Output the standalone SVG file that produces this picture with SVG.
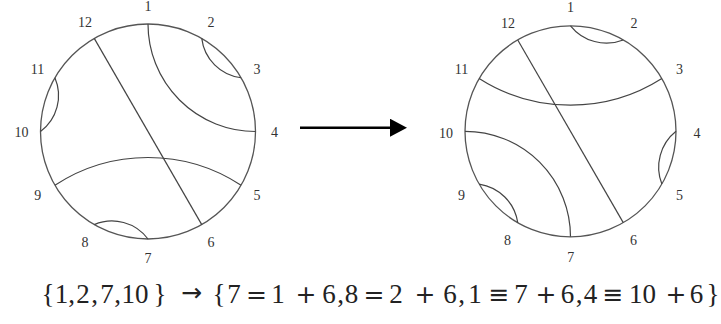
<svg xmlns="http://www.w3.org/2000/svg" width="721" height="324" viewBox="0 0 721 324">
  <style>
    .disk { fill: none; stroke: #555; stroke-width: 1.3; }
    .chord { fill: none; stroke: #444; stroke-width: 1.2; }
    .lbl { font-family: "Liberation Serif", "DejaVu Serif", serif; font-size: 14px; fill: #333; text-anchor: middle; }
    .formula { font-family: "Liberation Serif", "DejaVu Serif", serif; font-size: 27px; fill: #222; }
    .formula tspan { text-anchor: middle; }
    .formula .op { font-family: "DejaVu Sans", sans-serif; font-size: 25px; }
    .arrow { stroke: #000; stroke-width: 2.5; fill: none; }
  </style>
  <defs>
    <marker id="head" markerUnits="userSpaceOnUse" markerWidth="18" markerHeight="20" refX="0" refY="9" orient="auto">
      <polygon points="0,0 17,9 0,18" fill="#000"/>
    </marker>
  </defs>
  <rect width="721" height="324" fill="#fff"/>

  <g id="left-diagram">
    <circle class="disk" cx="148" cy="131.5" r="107.5"/>
    <path class="chord" d="M94.25,38.4 L201.75,224.6"/>
    <path class="chord" d="M148,24 A107.5,107.5 0 0 0 255.5,131.5"/>
    <path class="chord" d="M201.75,38.4 A45,45 0 0 0 241.1,77.75"/>
    <path class="chord" d="M40.5,131.5 A45,45 0 0 0 54.9,77.75"/>
    <path class="chord" d="M148,239 A45,45 0 0 0 94.25,224.6"/>
    <path class="chord" d="M241.1,185.25 A170,170 0 0 0 54.9,185.25"/>
    <g>
      <text class="lbl" x="148" y="10.5">1</text>
      <text class="lbl" x="211" y="27.4">2</text>
      <text class="lbl" x="257.1" y="73.8">3</text>
      <text class="lbl" x="274.5" y="137">4</text>
      <text class="lbl" x="257.1" y="200">5</text>
      <text class="lbl" x="211" y="246.6">6</text>
      <text class="lbl" x="148" y="263">7</text>
      <text class="lbl" x="85" y="246.6">8</text>
      <text class="lbl" x="37.8" y="200">9</text>
      <text class="lbl" x="21.5" y="137">10</text>
      <text class="lbl" x="37.5" y="73.8">11</text>
      <text class="lbl" x="85" y="27.4">12</text>
    </g>
  </g>

  <g id="right-diagram">
    <circle class="disk" cx="570.5" cy="131.3" r="105.5"/>
    <path class="chord" d="M517.75,39.94 L623.25,222.66"/>
    <path class="chord" d="M570.5,25.8 A46,46 0 0 0 623.25,39.94"/>
    <path class="chord" d="M479.14,78.55 A170,170 0 0 0 661.86,78.55"/>
    <path class="chord" d="M676,131.3 A46,46 0 0 0 661.86,184.05"/>
    <path class="chord" d="M570.5,236.8 A105.5,105.5 0 0 0 465,131.3"/>
    <path class="chord" d="M517.75,222.66 A46,46 0 0 0 479.14,184.05"/>
    <g>
      <text class="lbl" x="570.6" y="11.5">1</text>
      <text class="lbl" x="634" y="28">2</text>
      <text class="lbl" x="679.6" y="74">3</text>
      <text class="lbl" x="697" y="138">4</text>
      <text class="lbl" x="679.6" y="200">5</text>
      <text class="lbl" x="633.6" y="245">6</text>
      <text class="lbl" x="570.7" y="262">7</text>
      <text class="lbl" x="507.4" y="245">8</text>
      <text class="lbl" x="461.4" y="200">9</text>
      <text class="lbl" x="446" y="138">10</text>
      <text class="lbl" x="461.6" y="74">11</text>
      <text class="lbl" x="508" y="28">12</text>
    </g>
  </g>

  <g id="connectors">
    <line class="arrow" x1="300" y1="127.7" x2="390" y2="127.7" marker-end="url(#head)"/>
  </g>

  <g id="formula">
    <text class="formula" y="303"><tspan x="48">{</tspan><tspan x="61.5">1</tspan><tspan x="71.5">,</tspan><tspan x="83">2</tspan><tspan x="94.5">,</tspan><tspan x="107">7</tspan><tspan x="117.5">,</tspan><tspan x="135">10</tspan><tspan x="160">}</tspan><tspan class="op" x="191.5" dy="-2">→</tspan><tspan x="219" dy="2">{</tspan><tspan x="234">7</tspan><tspan class="op" x="256.5">=</tspan><tspan x="278">1</tspan><tspan class="op" x="306">+</tspan><tspan x="329">6</tspan><tspan x="340.5">,</tspan><tspan x="351.5">8</tspan><tspan class="op" x="374">=</tspan><tspan x="396">2</tspan><tspan class="op" x="425">+</tspan><tspan x="450">6</tspan><tspan x="461.5">,</tspan><tspan x="475">1</tspan><tspan class="op" x="499">≡</tspan><tspan x="521">7</tspan><tspan class="op" x="546">+</tspan><tspan x="567.5">6</tspan><tspan x="579">,</tspan><tspan x="590.5">4</tspan><tspan class="op" x="613">≡</tspan><tspan x="642.5">10</tspan><tspan class="op" x="676">+</tspan><tspan x="696.5">6</tspan><tspan x="713">}</tspan></text>
  </g>
</svg>
